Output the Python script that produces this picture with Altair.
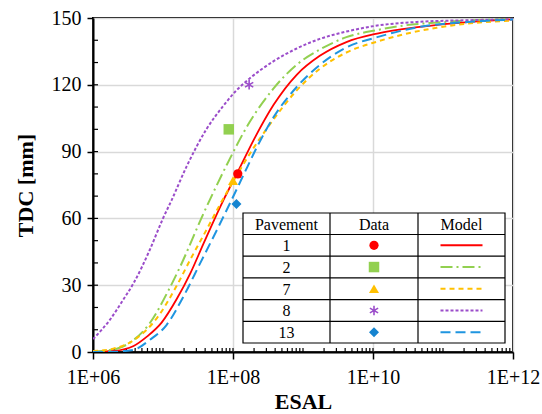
import altair as alt
import pandas as pd

# ---------------- data ----------------
pavements = ["1", "2", "7", "8", "13"]

# model curves: log10(ESAL) and TDC [mm]
red_log = [6.0, 6.3, 6.58, 6.77, 6.98, 7.2, 7.39, 7.58, 7.86, 8.07, 8.3, 8.58, 8.91, 9.24, 9.62, 10.06, 10.67, 11.39, 12.0]
red_tdc = [0.1, 0.5, 2.7, 6.9, 13.2, 24.0, 35.3, 48.8, 68.0, 81.0, 95.5, 111.0, 124.5, 133.0, 139.2, 143.0, 146.0, 148.3, 149.4]

green_log = [6.0, 6.34, 6.58, 6.81, 7.08, 7.24, 7.58, 7.91, 8.24, 8.58, 8.91, 9.24, 9.62, 10.06, 10.43, 10.91, 11.5, 12.0]
green_tdc = [0.2, 1.5, 5.4, 12.9, 27.8, 38.0, 62.3, 84.0, 103.4, 118.4, 129.0, 135.8, 141.4, 144.6, 146.6, 148.0, 149.1, 149.6]

yellow_log = [6.0, 6.29, 6.62, 6.91, 7.2, 7.39, 7.62, 7.81, 8.0, 8.25, 8.58, 8.91, 9.24, 9.62, 10.06, 10.43, 10.91, 11.39, 12.0]
yellow_tdc = [0.4, 1.5, 6.1, 15.1, 30.0, 41.5, 54.8, 66.0, 76.5, 89.5, 104.5, 117.5, 127.2, 134.5, 139.4, 142.6, 145.6, 147.6, 148.8]

purple_log = [6.0, 6.24, 6.43, 6.58, 6.81, 7.0, 7.12, 7.34, 7.62, 7.86, 8.05, 8.24, 8.58, 8.91, 9.24, 9.62, 10.06, 10.67, 11.5, 12.0]
purple_tdc = [5.8, 14.4, 23.4, 30.9, 45.8, 60.0, 68.0, 83.5, 100.0, 110.5, 117.5, 122.9, 130.6, 136.3, 140.6, 143.9, 146.6, 148.3, 149.1, 149.5]

blue_log = [6.0, 6.3, 6.58, 6.81, 7.05, 7.29, 7.53, 7.77, 7.96, 8.15, 8.35, 8.58, 8.91, 9.24, 9.62, 10.06, 10.67, 11.4, 12.0]
blue_tdc = [0.0, 0.1, 1.0, 5.4, 12.1, 24.8, 39.8, 54.8, 67.0, 79.5, 92.5, 105.5, 119.0, 128.9, 136.8, 141.4, 146.0, 148.3, 149.3]

# measured data points
point_esal = [1.17e8, 8.7e7, 1.0e8, 1.7e8, 1.12e8]
point_tdc = [80.0, 100.0, 77.0, 120.0, 66.5]

# axis tick values
x_major = [1e6, 1e8, 1e10, 1e12]
y_major = [0, 30, 60, 90, 120, 150]

# ---------------- styles ----------------
line_colors = ["#ff0000", "#92d050", "#ffc000", "#9b4dca", "#1f95e0"]
point_colors = ["#ff0000", "#92d050", "#ffc000", "#9b4dca", "#1584d0"]
dashes = [None, [12, 4, 2, 4], [5, 4], [3, 2], [10, 5]]
asterisk = "M0,-1L0,1M-0.87,-0.5L0.87,0.5M-0.87,0.5L0.87,-0.5"
shapes = ["circle", "square", "triangle-up", asterisk, "diamond"]
sizes = [85, 110, 100, 90, 100]
FONT = "Liberation Serif"

W, H = 420, 334

curves = [(red_log, red_tdc), (green_log, green_tdc), (yellow_log, yellow_tdc),
          (purple_log, purple_tdc), (blue_log, blue_tdc)]


def xenc():
    return alt.X(
        "esal:Q",
        scale=alt.Scale(type="log", domain=[1e6, 1e12]),
        axis=alt.Axis(
            values=x_major,
            labelExpr="'1E+' + format(round(log(datum.value)/LN10), '02d')",
            title="ESAL", grid=True, gridColor="#d9d9d9", gridWidth=1.5,
            domainColor="black", domainWidth=2, tickColor="black", tickSize=7,
            tickWidth=1.5, labelFont=FONT, labelFontSize=20, labelColor="black",
            labelPadding=8, labelFlush=False, titleFont=FONT, titleFontSize=22,
            titleFontWeight="bold", titleColor="black", titlePadding=4,
        ),
    )


def yenc():
    return alt.Y(
        "tdc:Q",
        scale=alt.Scale(domain=[0, 150]),
        axis=alt.Axis(
            values=y_major, title="TDC [mm]", grid=True, gridColor="#d9d9d9",
            gridWidth=1.5, domainColor="black", domainWidth=2, tickColor="black",
            tickSize=6, tickWidth=1.5, labelFont=FONT, labelFontSize=20,
            labelColor="black", labelPadding=6, titleFont=FONT, titleFontSize=22,
            titleFontWeight="bold", titleColor="black", titlePadding=14,
        ),
    )


layers = []

# minor / inside ticks
x_minor = []
for e in range(6, 12):
    for k in range(1, 10):
        v = k * 10 ** e
        if 1e6 < v < 1e12:
            x_minor.append(v)
xt = pd.DataFrame({"esal": x_minor})
layers.append(alt.Chart(xt).mark_rule(color="black", strokeWidth=1.2).encode(
    x=xenc(), y=alt.value(H), y2=alt.value(H - 4)))
yt = pd.DataFrame({"tdc": list(range(10, 150, 10))})
layers.append(alt.Chart(yt).mark_rule(color="black", strokeWidth=1.2).encode(
    y=yenc(), x=alt.value(0), x2=alt.value(5)))

# model curves
for i, (lg, td) in enumerate(curves):
    df = pd.DataFrame({"esal": [10 ** v for v in lg], "tdc": td})
    kw = dict(color=line_colors[i], strokeWidth=1.8 if i == 0 else 2,
              interpolate="monotone", clip=True)
    if dashes[i]:
        kw["strokeDash"] = dashes[i]
    layers.append(alt.Chart(df).mark_line(**kw).encode(x=xenc(), y=yenc()))

# data points
for i in range(5):
    df = pd.DataFrame({"esal": [point_esal[i]], "tdc": [point_tdc[i]]})
    if i == 3:
        mk = alt.Chart(df).mark_point(shape=shapes[i], filled=False, stroke=point_colors[i],
                                      strokeWidth=1.6, size=sizes[i], opacity=1)
    else:
        mk = alt.Chart(df).mark_point(shape=shapes[i], filled=True, color=point_colors[i],
                                      size=sizes[i], opacity=1)
    layers.append(mk.encode(x=xenc(), y=yenc()))

# ---------------- legend table ----------------
one = pd.DataFrame({"a": [0]})
LX0, LX1, LX2, LX3 = 150, 237, 325, 412
LY0, LHEAD = 195, 216.5
RH = 21.7
LY_END = LHEAD + RH * 5

layers.append(alt.Chart(one).mark_rect(fill="white", stroke="black", strokeWidth=1.2).encode(
    x=alt.value(LX0), x2=alt.value(LX3), y=alt.value(LY0), y2=alt.value(LY_END)))
for xv in (LX1, LX2):
    layers.append(alt.Chart(one).mark_rule(color="black", strokeWidth=1.2).encode(
        x=alt.value(xv), y=alt.value(LY0), y2=alt.value(LY_END)))
for r in range(5):
    yv = LHEAD + RH * r
    layers.append(alt.Chart(one).mark_rule(color="black", strokeWidth=1.2).encode(
        x=alt.value(LX0), x2=alt.value(LX3), y=alt.value(yv)))

cx = [(LX0 + LX1) / 2, (LX1 + LX2) / 2, (LX2 + LX3) / 2]
for j, h in enumerate(["Pavement", "Data", "Model"]):
    layers.append(alt.Chart(one).mark_text(text=h, font=FONT, fontSize=16, color="black",
                                           align="center", baseline="middle").encode(
        x=alt.value(cx[j]), y=alt.value((LY0 + LHEAD) / 2 + 1)))

for i, p in enumerate(pavements):
    yc = LHEAD + RH * i + RH / 2
    layers.append(alt.Chart(one).mark_text(text=p, font=FONT, fontSize=16, color="black",
                                           align="center", baseline="middle").encode(
        x=alt.value(cx[0]), y=alt.value(yc + 1)))
    if i == 3:
        mk = alt.Chart(one).mark_point(shape=shapes[i], filled=False, stroke=point_colors[i],
                                       strokeWidth=1.6, size=sizes[i], opacity=1)
    else:
        mk = alt.Chart(one).mark_point(shape=shapes[i], filled=True, color=point_colors[i],
                                       size=sizes[i], opacity=1)
    layers.append(mk.encode(x=alt.value(cx[1]), y=alt.value(yc)))
    kw = dict(color=line_colors[i], strokeWidth=2)
    if dashes[i]:
        kw["strokeDash"] = dashes[i]
    layers.append(alt.Chart(one).mark_rule(**kw).encode(
        x=alt.value(cx[2] - 21), x2=alt.value(cx[2] + 21), y=alt.value(yc)))

chart = alt.layer(*layers).properties(
    width=W, height=H,
    padding={"left": 93, "top": 18, "right": 29, "bottom": 62},
    autosize=alt.AutoSizeParams(type="none"),
).configure_view(stroke="black", strokeWidth=2)

chart.save("out.html", embed_options={"renderer": "svg", "actions": False})
